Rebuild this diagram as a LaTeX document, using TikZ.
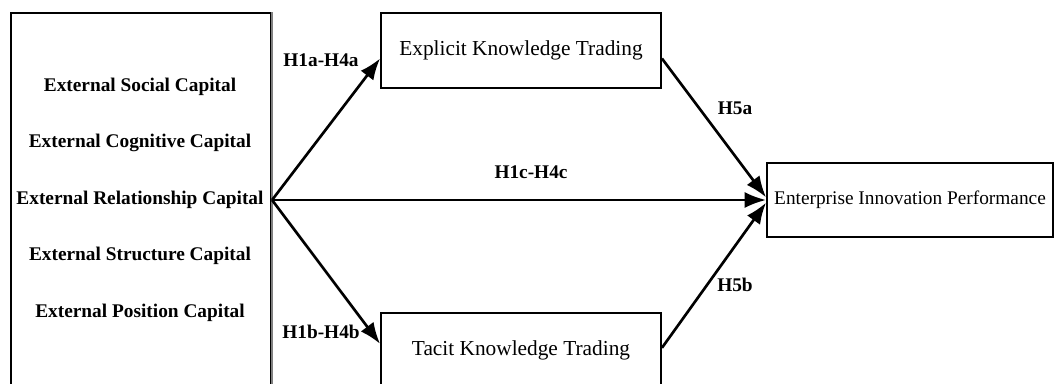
\documentclass[tikz,border=0pt]{standalone}
\usepackage{fontspec}
\setmainfont{Liberation Serif}
\usepackage{tikz}
\usetikzlibrary{arrows.meta,positioning}

\begin{document}
\begin{tikzpicture}[x=0.75pt, y=-0.75pt,
					>={Latex[length=16pt,width=12pt]},   %Pfeilspitzen
					box/.style={draw, line width=1.4pt, inner sep=0pt, font=\fontsize{16}{19}\selectfont},
					capital/.style={font=\bfseries\fontsize{14.5}{17}\selectfont},
					hyp/.style={font=\bfseries\fontsize{14.5}{17}\selectfont},
					link/.style={->, line width=2pt}]
					%Bildbereich
					\useasboundingbox (0,0) rectangle (1054,383);
					\clip (0,0) rectangle (1054,383);
					% linker Kasten
					\node[draw, line width=1.6pt, minimum width=195pt, minimum height=290pt] (capbox) at (141,206.5) {};
					\draw[gray, line width=1.6pt] (capbox.north east) -- (capbox.south east);
					\foreach \t/\y/\n in {External Social Capital/87/soc, External Cognitive Capital/143/cog,
						External Relationship Capital/200/rel, External Structure Capital/256/str,
						External Position Capital/313/pos}
						\node[capital] (\n) at (140,\y) {\t};
					% Kaesten rechts
					\node[box, minimum width=210pt, minimum height=56.25pt] (ex) at (521,50.5) {Explicit Knowledge Trading};
					\node[box, minimum width=210pt, minimum height=56.25pt] (tc) at (521,350.5) {Tacit Knowledge Trading};
					\node[box, minimum width=214.5pt, minimum height=55.5pt, font=\fontsize{14.5}{17}\selectfont] (en) at (910,200) {Enterprise Innovation Performance};
					% Pfeile
					\coordinate (src) at (capbox.east |- rel);
					\draw[link] (src) -- ([yshift=-6pt]ex.west);
					\draw[link] (src) -- ([yshift=5pt]tc.west);
					\draw[link] (src) -- (en.west);
					\draw[link] ([yshift=-6pt]ex.east) -- ([yshift=2pt]en.west);
					\draw[link] ([yshift=2pt]tc.east) -- ([yshift=-2pt]en.west);
					% Hypothesen
					\node[hyp] (ha) at (321,60) {H1a-H4a};
					\node[hyp] (hb) at (321,332) {H1b-H4b};
					\node[hyp] (hc) at (531,172) {H1c-H4c};
					\node[hyp] (h5a) at (735,108) {H5a};
					\node[hyp] (h5b) at (735,285) {H5b};
				\end{tikzpicture}
\end{document}
